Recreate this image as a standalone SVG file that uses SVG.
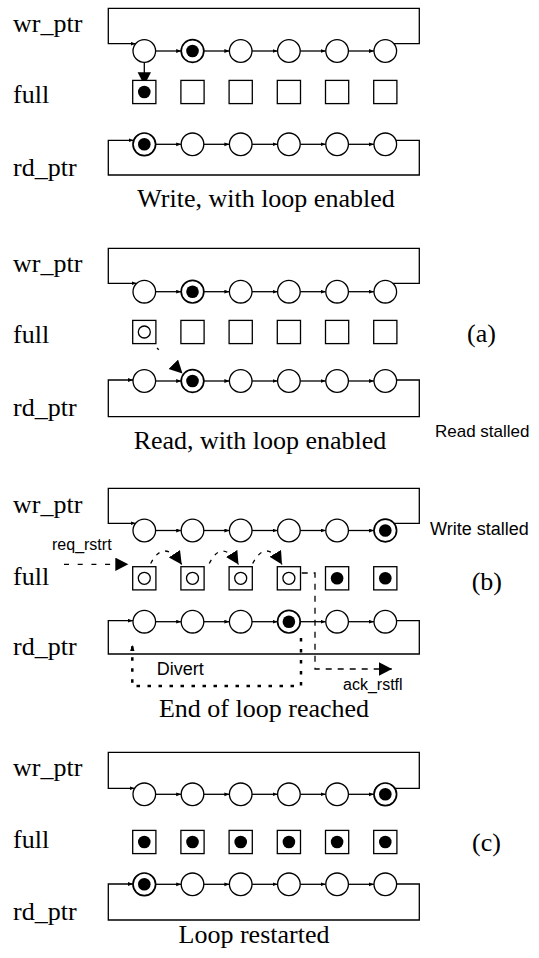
<svg xmlns="http://www.w3.org/2000/svg" xmlns:xlink="http://www.w3.org/1999/xlink" width="539" height="958" viewBox="0 0 539 958">
<style>
.ln{fill:none;stroke:#000;stroke-width:1.3}
.pl{fill:#fff;stroke:#000;stroke-width:1.3}
.mk{fill:#fff;stroke:#000;stroke-width:1.7}
.sq{fill:#fff;stroke:#000;stroke-width:1.3}
.tok{fill:#000}
.etok{fill:none;stroke:#000;stroke-width:1.3}
.sa{marker-end:url(#sa)}
.ba{marker-end:url(#ba)}
.dash{fill:none;stroke:#000;stroke-width:1.3;stroke-dasharray:5 8.7}
.dash2{fill:none;stroke:#000;stroke-width:1.3;stroke-dasharray:4 6}
.dash3{fill:none;stroke:#000;stroke-width:1.3;stroke-dasharray:6 6}
.dot{fill:none;stroke:#000;stroke-width:2.5;stroke-dasharray:3.5 7.5}
.serif{font-family:"Liberation Serif","Times New Roman",serif;font-size:26px;fill:#000}
.sans{font-family:"Liberation Sans",Arial,sans-serif;font-size:16px;fill:#000}
.sans17{font-family:"Liberation Sans",Arial,sans-serif;font-size:17px;fill:#000}
.sans18{font-family:"Liberation Sans",Arial,sans-serif;font-size:18px;fill:#000}
</style>
<defs>
<marker id="sa" markerUnits="userSpaceOnUse" markerWidth="6" markerHeight="5" refX="5" refY="1.9" orient="auto"><path d="M0,0 L5,1.9 L0,3.8 z" fill="#000"/></marker>
<marker id="ba" markerUnits="userSpaceOnUse" markerWidth="14" markerHeight="14" refX="13" refY="6.7" orient="auto"><path d="M0,0 L13,6.7 L0,13.4 z" fill="#000"/></marker>
<marker id="da" markerUnits="userSpaceOnUse" markerWidth="7" markerHeight="5" refX="6" refY="2.2" orient="auto"><path d="M0,0 L6,2.2 L0,4.4 z" fill="#000"/></marker>
<circle id="pl" r="11.3" class="pl"/>
<g id="mk"><circle r="11.3" class="mk"/><circle r="6.3" class="tok"/></g>
<rect id="sq" x="-11.6" y="-11.6" width="23.2" height="23.2" class="sq"/>
<g id="sqf"><rect x="-11.6" y="-11.6" width="23.2" height="23.2" class="sq"/><circle r="6.3" class="tok"/></g>
<g id="sqe"><rect x="-11.6" y="-11.6" width="23.2" height="23.2" class="sq"/><circle r="6" class="etok"/></g>
</defs>
<rect width="539" height="958" fill="#fff"/>

<g id="connectors">
<!-- panel 1 -->
<path class="ln sa" d="M393.9,43.7 H419.3 V8.3 H108.3 V43.7 H135.7"/>
<path class="ln sa" d="M155.6,51 H181.2"/><path class="ln sa" d="M203.8,51 H229.4"/><path class="ln sa" d="M252,51 H277.6"/><path class="ln sa" d="M300.2,51 H325.8"/><path class="ln sa" d="M348.4,51 H374"/>
<path class="ln ba" d="M144.3,62.3 V85.3"/>
<path class="ln sa" d="M395.9,140.3 H419.3 V175 H108.3 V140.3 H133.7"/>
<path class="ln sa" d="M155.6,144.3 H181.2"/><path class="ln sa" d="M203.8,144.3 H229.4"/><path class="ln sa" d="M252,144.3 H277.6"/><path class="ln sa" d="M300.2,144.3 H325.8"/><path class="ln sa" d="M348.4,144.3 H374"/>
<!-- panel 2 -->
<path class="ln sa" d="M392.9,283.3 H419.3 V248.3 H108.3 V283.3 H136.7"/>
<path class="ln sa" d="M155.6,291.7 H181.2"/><path class="ln sa" d="M203.8,291.7 H229.4"/><path class="ln sa" d="M252,291.7 H277.6"/><path class="ln sa" d="M300.2,291.7 H325.8"/><path class="ln sa" d="M348.4,291.7 H374"/>
<path class="ln sa" d="M396.6,380 H419.3 V416.7 H108.3 V380 H133"/>
<path class="ln sa" d="M155.6,381 H181.2"/><path class="ln sa" d="M203.8,381 H229.4"/><path class="ln sa" d="M252,381 H277.6"/><path class="ln sa" d="M300.2,381 H325.8"/><path class="ln sa" d="M348.4,381 H374"/>
<path class="ba" d="M157,348 L182.5,373.5" fill="none" stroke="#000" stroke-width="1.3" stroke-dasharray="2.5 40"/>
<!-- panel 3 -->
<path class="ln sa" d="M394,523.3 H419.3 V488.3 H108.3 V523.3 H135.6"/>
<path class="ln sa" d="M155.6,530.5 H181.2"/><path class="ln sa" d="M203.8,530.5 H229.4"/><path class="ln sa" d="M252,530.5 H277.6"/><path class="ln sa" d="M300.2,530.5 H325.8"/><path class="ln sa" d="M348.4,530.5 H374"/>
<path class="ln sa" d="M396.6,620.7 H419.3 V654 H108.3 V620.7 H133"/>
<path class="ln sa" d="M155.6,621.7 H181.2"/><path class="ln sa" d="M203.8,621.7 H229.4"/><path class="ln sa" d="M252,621.7 H277.6"/><path class="ln sa" d="M300.2,621.7 H325.8"/><path class="ln sa" d="M348.4,621.7 H374"/>
<path class="dash ba" d="M64,564.3 H128.3"/>
<path class="dash2 ba" d="M150.7,563.5 Q164,538 181.7,564.5"/>
<path class="dash2 ba" d="M209.3,563.5 Q222,538 238.5,564.5"/>
<path class="dash2 ba" d="M252.7,563.5 Q266,538 282,564.5"/>
<path class="dash3 ba" d="M301.7,573 H315 V669 H392"/>
<path class="dot" d="M301,638 V686 H132.3 V645" marker-end="url(#da)"/>
<!-- panel 4 -->
<path class="ln sa" d="M394.9,788.3 H419.3 V752.3 H108.3 V788.3 H134.7"/>
<path class="ln sa" d="M155.6,794.3 H181.2"/><path class="ln sa" d="M203.8,794.3 H229.4"/><path class="ln sa" d="M252,794.3 H277.6"/><path class="ln sa" d="M300.2,794.3 H325.8"/><path class="ln sa" d="M348.4,794.3 H374"/>
<path class="ln sa" d="M396.6,884 H419.3 V920 H108.3 V884 H133"/>
<path class="ln sa" d="M155.6,884.3 H181.2"/><path class="ln sa" d="M203.8,884.3 H229.4"/><path class="ln sa" d="M252,884.3 H277.6"/><path class="ln sa" d="M300.2,884.3 H325.8"/><path class="ln sa" d="M348.4,884.3 H374"/>
</g>

<!-- Panel 1 -->
<g id="p1-wr1"><use href="#pl" x="144.3" y="51"/></g>
<g id="p1-wr2"><use href="#mk" x="192.5" y="51"/></g>
<g id="p1-wr3"><use href="#pl" x="240.7" y="51"/></g>
<g id="p1-wr4"><use href="#pl" x="288.9" y="51"/></g>
<g id="p1-wr5"><use href="#pl" x="337.1" y="51"/></g>
<g id="p1-wr6"><use href="#pl" x="385.3" y="51"/></g>
<g id="p1-full1"><use href="#sqf" x="144.3" y="92"/></g>
<g id="p1-full2"><use href="#sq" x="192.5" y="92"/></g>
<g id="p1-full3"><use href="#sq" x="240.7" y="92"/></g>
<g id="p1-full4"><use href="#sq" x="288.9" y="92"/></g>
<g id="p1-full5"><use href="#sq" x="337.1" y="92"/></g>
<g id="p1-full6"><use href="#sq" x="385.3" y="92"/></g>
<g id="p1-rd1"><use href="#mk" x="144.3" y="144.3"/></g>
<g id="p1-rd2"><use href="#pl" x="192.5" y="144.3"/></g>
<g id="p1-rd3"><use href="#pl" x="240.7" y="144.3"/></g>
<g id="p1-rd4"><use href="#pl" x="288.9" y="144.3"/></g>
<g id="p1-rd5"><use href="#pl" x="337.1" y="144.3"/></g>
<g id="p1-rd6"><use href="#pl" x="385.3" y="144.3"/></g>

<!-- Panel 2 -->
<g id="p2-wr1"><use href="#pl" x="144.3" y="291.7"/></g>
<g id="p2-wr2"><use href="#mk" x="192.5" y="291.7"/></g>
<g id="p2-wr3"><use href="#pl" x="240.7" y="291.7"/></g>
<g id="p2-wr4"><use href="#pl" x="288.9" y="291.7"/></g>
<g id="p2-wr5"><use href="#pl" x="337.1" y="291.7"/></g>
<g id="p2-wr6"><use href="#pl" x="385.3" y="291.7"/></g>
<g id="p2-full1"><use href="#sqe" x="144.3" y="332"/></g>
<g id="p2-full2"><use href="#sq" x="192.5" y="332"/></g>
<g id="p2-full3"><use href="#sq" x="240.7" y="332"/></g>
<g id="p2-full4"><use href="#sq" x="288.9" y="332"/></g>
<g id="p2-full5"><use href="#sq" x="337.1" y="332"/></g>
<g id="p2-full6"><use href="#sq" x="385.3" y="332"/></g>
<g id="p2-rd1"><use href="#pl" x="144.3" y="381"/></g>
<g id="p2-rd2"><use href="#mk" x="192.5" y="381"/></g>
<g id="p2-rd3"><use href="#pl" x="240.7" y="381"/></g>
<g id="p2-rd4"><use href="#pl" x="288.9" y="381"/></g>
<g id="p2-rd5"><use href="#pl" x="337.1" y="381"/></g>
<g id="p2-rd6"><use href="#pl" x="385.3" y="381"/></g>

<!-- Panel 3 -->
<g id="p3-wr1"><use href="#pl" x="144.3" y="530.5"/></g>
<g id="p3-wr2"><use href="#pl" x="192.5" y="530.5"/></g>
<g id="p3-wr3"><use href="#pl" x="240.7" y="530.5"/></g>
<g id="p3-wr4"><use href="#pl" x="288.9" y="530.5"/></g>
<g id="p3-wr5"><use href="#pl" x="337.1" y="530.5"/></g>
<g id="p3-wr6"><use href="#mk" x="385.3" y="530.5"/></g>
<g id="p3-full1"><use href="#sqe" x="144.3" y="578.3"/></g>
<g id="p3-full2"><use href="#sqe" x="192.5" y="578.3"/></g>
<g id="p3-full3"><use href="#sqe" x="240.7" y="578.3"/></g>
<g id="p3-full4"><use href="#sqe" x="288.9" y="578.3"/></g>
<g id="p3-full5"><use href="#sqf" x="337.1" y="578.3"/></g>
<g id="p3-full6"><use href="#sqf" x="385.3" y="578.3"/></g>
<g id="p3-rd1"><use href="#pl" x="144.3" y="621.7"/></g>
<g id="p3-rd2"><use href="#pl" x="192.5" y="621.7"/></g>
<g id="p3-rd3"><use href="#pl" x="240.7" y="621.7"/></g>
<g id="p3-rd4"><use href="#mk" x="288.9" y="621.7"/></g>
<g id="p3-rd5"><use href="#pl" x="337.1" y="621.7"/></g>
<g id="p3-rd6"><use href="#pl" x="385.3" y="621.7"/></g>

<!-- Panel 4 -->
<g id="p4-wr1"><use href="#pl" x="144.3" y="794.3"/></g>
<g id="p4-wr2"><use href="#pl" x="192.5" y="794.3"/></g>
<g id="p4-wr3"><use href="#pl" x="240.7" y="794.3"/></g>
<g id="p4-wr4"><use href="#pl" x="288.9" y="794.3"/></g>
<g id="p4-wr5"><use href="#pl" x="337.1" y="794.3"/></g>
<g id="p4-wr6"><use href="#mk" x="385.3" y="794.3"/></g>
<g id="p4-full1"><use href="#sqf" x="144.3" y="842"/></g>
<g id="p4-full2"><use href="#sqf" x="192.5" y="842"/></g>
<g id="p4-full3"><use href="#sqf" x="240.7" y="842"/></g>
<g id="p4-full4"><use href="#sqf" x="288.9" y="842"/></g>
<g id="p4-full5"><use href="#sqf" x="337.1" y="842"/></g>
<g id="p4-full6"><use href="#sqf" x="385.3" y="842"/></g>
<g id="p4-rd1"><use href="#mk" x="144.3" y="884.3"/></g>
<g id="p4-rd2"><use href="#pl" x="192.5" y="884.3"/></g>
<g id="p4-rd3"><use href="#pl" x="240.7" y="884.3"/></g>
<g id="p4-rd4"><use href="#pl" x="288.9" y="884.3"/></g>
<g id="p4-rd5"><use href="#pl" x="337.1" y="884.3"/></g>
<g id="p4-rd6"><use href="#pl" x="385.3" y="884.3"/></g>

<g id="labels">
<text class="serif" x="13" y="32.3">wr_ptr</text>
<text class="serif" x="13" y="103.3">full</text>
<text class="serif" x="13" y="175.5">rd_ptr</text>
<text class="serif" x="266" y="206.7" text-anchor="middle">Write, with loop enabled</text>

<text class="serif" x="13" y="272.3">wr_ptr</text>
<text class="serif" x="13" y="342.7">full</text>
<text class="serif" x="467" y="342">(a)</text>
<text class="serif" x="13" y="415.5">rd_ptr</text>
<text class="sans17" x="435" y="437">Read stalled</text>
<text class="serif" x="260" y="449" text-anchor="middle">Read, with loop enabled</text>

<text class="serif" x="13" y="512.7">wr_ptr</text>
<text class="sans18" x="430" y="535">Write stalled</text>
<text class="sans" x="52" y="550">req_rstrt</text>
<text class="serif" x="13" y="585">full</text>
<text class="serif" x="471.7" y="590">(b)</text>
<text class="serif" x="13" y="655">rd_ptr</text>
<text class="sans18" x="156.7" y="675">Divert</text>
<text class="sans" x="343" y="690">ack_rstfl</text>
<text class="serif" x="264" y="716.7" text-anchor="middle">End of loop reached</text>

<text class="serif" x="13" y="776.3">wr_ptr</text>
<text class="serif" x="13" y="847.7">full</text>
<text class="serif" x="472" y="851">(c)</text>
<text class="serif" x="13" y="920">rd_ptr</text>
<text class="serif" x="254" y="943.3" text-anchor="middle">Loop restarted</text>
</g>
</svg>
